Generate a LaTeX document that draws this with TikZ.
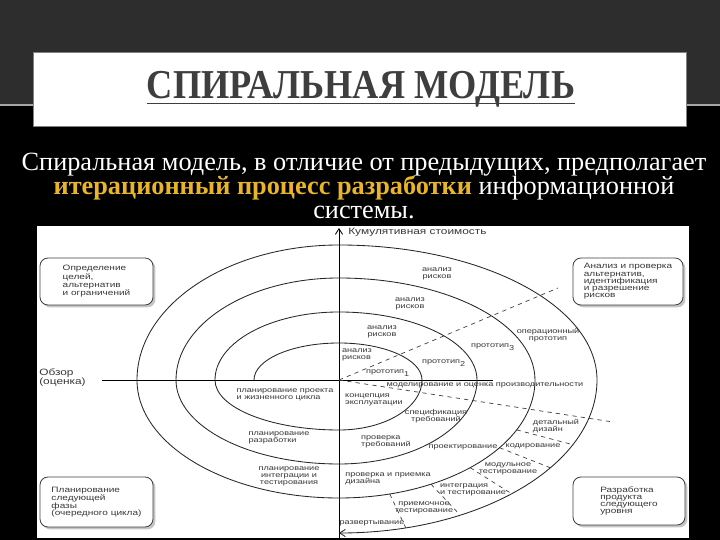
\documentclass[tikz,border=0pt]{standalone}
\usepackage{fontspec}
\setmainfont{Liberation Serif}
\newfontfamily\diagfont[FakeStretch=1.3]{Liberation Sans}
\usetikzlibrary{positioning, calc, arrows.meta, shadows}

\definecolor{slidegray}{RGB}{45,45,45}
\definecolor{titlegray}{RGB}{62,62,62}
\definecolor{goldtext}{RGB}{232,180,40}
\definecolor{inkgray}{RGB}{55,55,55}

\begin{document}
\begin{tikzpicture}[
    x=0.25mm, y=0.25mm,
    intro/.style={anchor=base, text=white, inner sep=0pt, font=\fontsize{18.7}{20}\selectfont},
    phase/.style={draw=black!75, line width=0.6pt, rounded corners=2mm, fill=white,
        drop shadow={shadow xshift=0.6mm, shadow yshift=-0.6mm, opacity=0.45},
        align=left, text=inkgray, font=\diagfont\fontsize{5.5}{5.2}\selectfont},
    tag/.style={inner sep=0pt, align=center, text=inkgray, font=\diagfont\fontsize{5}{5}\selectfont},
    spiral/.style={line width=0.6pt, black!85},
    sector/.style={dashed, line width=0.5pt, black!75},
    barb/.style={-{Straight Barb[length=1.4mm, width=1.8mm]}}
]
    \useasboundingbox (0,0) rectangle (720,540);

    % Slide background
    \fill[black] (0,0) rectangle (720,540);
    \fill[slidegray] (0,435) rectangle (720,540);
    \draw[gray!70, line width=0.8pt] (0,435) -- (720,435);

    % Title
    \node[draw=gray, fill=white, minimum width=163.25mm, minimum height=18.5mm] (titlebox) at (359.5,451) {};
    \node[anchor=base, inner sep=0pt, text=titlegray] (title) at (361,441) {\resizebox{107mm}{6.8mm}{\bfseries СПИРАЛЬНАЯ МОДЕЛЬ}};
    \draw[titlegray, line width=1.3pt] ($(title.base west)+(0,-4.5)$) -- ($(title.base east)+(0,-4.5)$);

    % Intro text
    \node[intro] (intro1) at (364,369) {Спиральная модель, в отличие от предыдущих, предполагает};
    \node[intro] (intro2) at (364,345) {\textcolor{goldtext}{\bfseries итерационный процесс разработки} информационной};
    \node[intro] (intro3) at (364,321) {системы.};

    % Diagram panel
    \fill[white] (37,2) rectangle (689,314);
    \coordinate (O) at (339,160);

    % Axes
    \draw[line width=0.6pt, barb] (339,2) -- (339,312);
    \draw[line width=0.6pt] (102,160) -- (493,160);
    \node[anchor=west, inner sep=0pt, text=inkgray, font=\diagfont\fontsize{6.5}{6.5}\selectfont] (cost) at (348,308) {Кумулятивная стоимость};
    \node[anchor=west, inner sep=0pt, align=left, text=inkgray, font=\diagfont\fontsize{6.5}{6.5}\selectfont] (review) at (39,162) {Обзор\\(оценка)};

    % Dashed sector lines
    \coordinate (riskend) at (558,252);
    \coordinate (simend) at (613,118);
    \draw[sector] (O) -- (riskend);
    \draw[sector] (O) -- (simend);
    \draw[sector] ($(O)+(-25:196 and 118)$) -- ($(O)+(-25:258 and 153)$);
    \draw[sector] ($(O)+(-35:196 and 118)$) -- ($(O)+(-35:258 and 153)$);
    \draw[sector] ($(O)+(-48:196 and 118)$) -- ($(O)+(-48:258 and 153)$);
    \draw[sector] ($(O)+(-62:196 and 118)$) -- ($(O)+(-62:258 and 153)$);
    \draw[sector] ($(O)+(-75:196 and 118)$) -- ($(O)+(-75:258 and 153)$);

    % Spiral
    \draw[spiral, barb] (254,160)
        arc[start angle=180, end angle=90, x radius=85, y radius=37]
        arc[start angle=90, end angle=0, x radius=83, y radius=37]
        arc[start angle=0, end angle=-90, x radius=83, y radius=50]
        arc[start angle=-90, end angle=-180, x radius=124, y radius=50]
        arc[start angle=180, end angle=90, x radius=124, y radius=68]
        arc[start angle=90, end angle=0, x radius=138, y radius=68]
        arc[start angle=0, end angle=-90, x radius=138, y radius=84]
        arc[start angle=-90, end angle=-180, x radius=163, y radius=84]
        arc[start angle=180, end angle=90, x radius=163, y radius=102]
        arc[start angle=90, end angle=0, x radius=196, y radius=102]
        arc[start angle=0, end angle=-90, x radius=196, y radius=118]
        arc[start angle=-90, end angle=-180, x radius=202, y radius=118]
        arc[start angle=180, end angle=90, x radius=202, y radius=135]
        arc[start angle=90, end angle=0, x radius=258, y radius=135]
        arc[start angle=0, end angle=-90, x radius=258, y radius=153];

    % Quadrant boxes
    \node[phase, minimum width=28.25mm, minimum height=11.75mm] (goals) at (96.5,258.5) {Определение\\целей,\\альтернатив\\и ограничений};
    \node[phase, minimum width=27.5mm, minimum height=11.75mm] (risks) at (628,258.5) {Анализ и проверка\\альтернатив,\\идентификация\\и разрешение\\рисков};
    \node[phase, minimum width=28.25mm, minimum height=12.5mm] (plan) at (96.5,38) {Планирование\\следующей\\фазы\\(очередного цикла)};
    \node[phase, minimum width=28mm, minimum height=12mm] (develop) at (629,39) {Разработка\\продукта\\следующего\\уровня};

    % Risk analysis and prototypes
    \node[tag] (risk4) at (437,266) {анализ\\рисков};
    \node[tag] (risk3) at (410,236) {анализ\\рисков};
    \node[tag] (risk2) at (382,208) {анализ\\рисков};
    \node[tag, align=left] (risk1) at (357,185) {анализ\\рисков};
    \node[tag] (proto1) at (388,167) {прототип\textsubscript{1}};
    \node[tag] (proto2) at (444,177) {прототип\textsubscript{2}};
    \node[tag] (proto3) at (493,193) {прототип\textsubscript{3}};
    \node[tag] (proto4) at (548,205) {операционный\\прототип};

    % Development
    \node[tag] (sim) at (485,155) {моделирование и оценка производительности};
    \node[tag, align=left] (concept) at (374,140) {концепция\\эксплуатации};
    \node[tag] (reqspec) at (436,124) {спецификация\\требований};
    \node[tag, align=left] (reqcheck) at (386,98) {проверка\\требований};
    \node[tag] (design) at (463,93) {проектирование};
    \node[tag] (coding) at (533,94) {кодирование};
    \node[tag, align=left] (detail) at (556,114) {детальный\\дизайн};
    \node[tag] (unittest) at (508,71) {модульное\\тестирование};
    \node[tag, align=left] (designcheck) at (388,61) {проверка и приемка\\дизайна};
    \node[tag, align=left] (integr) at (473,50) {интеграция\\и тестирование};
    \node[tag] (accept) at (424,32) {приемочное\\тестирование};
    \node[tag] (deploy) at (372,17) {развертывание};

    % Planning
    \node[tag, align=left] (lifeplan) at (285,145) {планирование проекта\\и жизненного цикла};
    \node[tag, align=left] (devplan) at (279,102) {планирование\\разработки};
    \node[tag] (testplan) at (289,64) {планирование\\интеграции и\\тестирования};

\end{tikzpicture}
\end{document}
